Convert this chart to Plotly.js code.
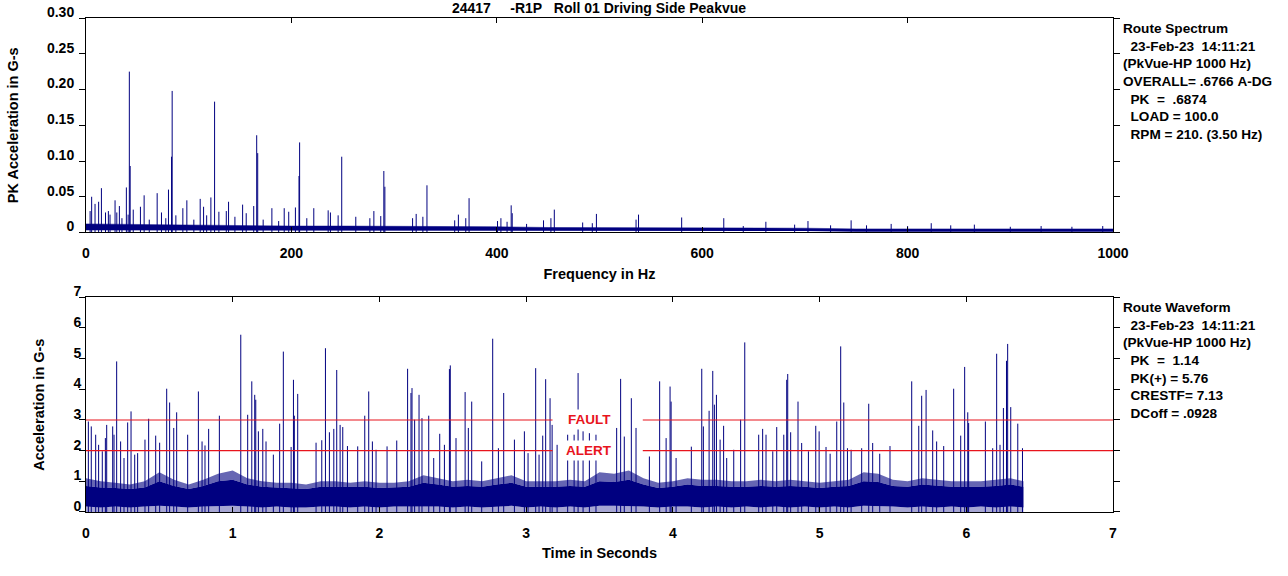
<!DOCTYPE html>
<html>
<head>
<meta charset="utf-8">
<script src="https://cdn.plot.ly/plotly-3.0.1.min.js"></script>
<style>
  html, body { margin: 0; padding: 0; background: #fff; }
  #chart { width: 1288px; height: 576px; }
</style>
</head>
<body>
<div id="chart"></div>
<script>
// ---- Route spectrum ----
const specPeakHz = [
  4, 5.5, 8.8, 12.3, 15, 19, 21.8, 23.4, 28.3, 30, 32.5, 35, 39.3, 41, 42.2, 43, 46, 53, 56.6, 61.6,
  69.3, 73.5, 77.7, 80.3, 83.3, 83.9, 87.5, 94.3, 98.2, 105, 111.2, 114.5, 117.5, 121.6, 125.2, 129.4,
  136.6, 138.8, 145, 152.5, 156, 163.3, 166.2, 167.2, 172.5, 181, 187.6, 193, 197.4, 203.9, 207.4, 208,
  215, 221.8, 235.8, 238, 245.5, 249, 262.7, 276.4, 280.3, 287, 290, 291, 318, 321.5, 328, 332,
  359, 362.6, 369.8, 373, 400.7, 404, 410, 414, 415, 429, 445.5, 452.7, 456, 483.6, 493, 497,
  535.6, 538, 580, 621, 640, 662, 690, 703, 725, 745, 760, 784, 800, 823, 842, 865, 900, 930, 960, 990
];
const specPeakAmp = [
  0.030, 0.050, 0.040, 0.043, 0.062, 0.028, 0.030, 0.025, 0.045, 0.028, 0.037, 0.020, 0.063, 0.025, 0.225, 0.093, 0.032, 0.036, 0.052, 0.018,
  0.055, 0.028, 0.020, 0.060, 0.106, 0.198, 0.024, 0.034, 0.045, 0.018, 0.047, 0.036, 0.024, 0.049, 0.183, 0.029,
  0.030, 0.043, 0.022, 0.039, 0.027, 0.037, 0.136, 0.111, 0.018, 0.034, 0.016, 0.034, 0.029, 0.035, 0.079, 0.126,
  0.020, 0.034, 0.031, 0.028, 0.024, 0.106, 0.022, 0.020, 0.030, 0.023, 0.086, 0.064, 0.020, 0.026, 0.022, 0.066,
  0.017, 0.025, 0.020, 0.048, 0.016, 0.020, 0.015, 0.038, 0.027, 0.012, 0.017, 0.020, 0.032, 0.014, 0.013, 0.026,
  0.018, 0.025, 0.021, 0.020, 0.009, 0.015, 0.011, 0.016, 0.010, 0.017, 0.010, 0.012, 0.009, 0.013, 0.010, 0.011, 0.008, 0.009, 0.008, 0.009
];
// noise floor band, every 50 Hz
const specBandHz = [0, 50, 100, 150, 200, 250, 300, 350, 400, 450, 500, 550, 600, 650, 700, 750, 800, 850, 900, 950, 1000];
const specBandLo = [0.003, 0.003, 0.003, 0.003, 0.003, 0.003, 0.002, 0.002, 0.002, 0.002, 0.002, 0.002, 0.002, 0.002, 0.002, 0.001, 0.001, 0.001, 0.001, 0.001, 0.001];
const specBandHi = [0.012, 0.011, 0.010, 0.010, 0.009, 0.009, 0.009, 0.008, 0.008, 0.007, 0.007, 0.007, 0.006, 0.006, 0.006, 0.005, 0.005, 0.005, 0.005, 0.005, 0.005];
const specXTicks = [0, 200, 400, 600, 800, 1000];
const specYTicks = [0, 0.05, 0.10, 0.15, 0.20, 0.25, 0.30];
const specYLabels = ['0', '0.05', '0.10', '0.15', '0.20', '0.25', '0.30'];

// ---- Route waveform ----
const waveSpikeT = [
  0.016, 0.036, 0.066, 0.086, 0.111, 0.132, 0.141, 0.182, 0.191, 0.209, 0.236, 0.259, 0.284, 0.307, 0.332, 0.352, 0.402, 0.427, 0.475, 0.502,
  0.550, 0.570, 0.598, 0.618, 0.693, 0.766, 0.791, 0.811, 0.836, 0.909, 1.055, 1.102, 1.130, 1.150, 1.157, 1.175, 1.205, 1.227, 1.277, 1.320,
  1.345, 1.398, 1.414, 1.420, 1.443, 1.568, 1.607, 1.632, 1.659, 1.689, 1.709, 1.732, 1.750, 1.782, 1.852, 1.900, 1.927, 1.952, 1.977, 2.052,
  2.118, 2.192, 2.215, 2.222, 2.240, 2.270, 2.290, 2.336, 2.370, 2.411, 2.443, 2.477, 2.483, 2.522, 2.584, 2.606, 2.629, 2.697, 2.772, 2.811,
  2.847, 2.920, 2.988, 3.013, 3.065, 3.088, 3.113, 3.133, 3.163, 3.177, 3.211, 3.283, 3.327, 3.354, 3.388, 3.431, 3.476, 3.617, 3.644, 3.669,
  3.717, 3.749, 3.840, 3.910, 3.954, 3.981, 3.988, 4.022, 4.126, 4.197, 4.208, 4.247, 4.272, 4.283, 4.297, 4.322, 4.346, 4.367, 4.415, 4.462,
  4.490, 4.585, 4.612, 4.635, 4.681, 4.708, 4.756, 4.776, 4.783, 4.803, 4.853, 4.878, 4.924, 4.974, 4.997, 5.044, 5.072, 5.117, 5.144, 5.165,
  5.190, 5.215, 5.287, 5.335, 5.362, 5.410, 5.480, 5.628, 5.676, 5.696, 5.726, 5.771, 5.798, 5.846, 5.914, 5.962, 5.989, 6.010, 6.016, 6.130,
  6.180, 6.207, 6.230, 6.253, 6.274, 6.282, 6.303, 6.351, 6.383
];
const waveSpikeAmp = [
  2.95, 2.79, 2.52, 2.19, 1.98, 2.41, 2.84, 2.79, 2.52, 4.91, 2.30, 1.76, 2.92, 3.28, 1.87, 1.92, 2.36, 3.04, 2.49, 2.26,
  4.02, 3.57, 2.74, 3.25, 2.52, 3.93, 2.30, 2.17, 2.71, 3.14, 5.78, 3.17, 4.26, 3.82, 3.66, 2.63, 2.71, 2.30, 1.87, 2.88,
  5.23, 2.12, 4.31, 3.14, 3.85, 2.26, 2.34, 5.34, 2.60, 2.71, 4.63, 2.84, 2.77, 2.15, 2.14, 3.14, 3.93, 2.30, 2.03, 2.14,
  2.33, 4.67, 3.88, 4.04, 3.01, 3.82, 3.06, 3.14, 1.76, 2.55, 2.19, 4.66, 4.78, 2.41, 3.91, 2.74, 3.60, 1.65, 5.65, 2.08,
  3.88, 2.36, 2.63, 1.92, 4.69, 1.87, 2.49, 4.33, 3.71, 2.84, 2.19, 2.52, 2.52, 4.53, 2.63, 2.57, 2.52, 2.74, 4.34, 2.46,
  3.71, 2.74, 1.81, 4.26, 2.41, 4.09, 3.60, 1.76, 2.13, 4.67, 2.79, 3.30, 4.60, 3.50, 3.82, 2.36, 2.81, 1.76, 2.03, 3.01,
  5.53, 2.52, 2.71, 2.52, 1.98, 2.77, 2.52, 4.31, 4.50, 2.60, 3.60, 2.25, 1.98, 2.81, 2.63, 2.12, 1.90, 2.95, 5.40, 3.57,
  2.08, 2.03, 2.08, 3.53, 2.25, 1.90, 2.15, 4.26, 2.81, 3.79, 3.98, 2.66, 2.30, 2.15, 4.02, 2.49, 4.73, 3.25, 2.90, 2.95,
  2.08, 5.16, 2.19, 3.39, 4.93, 5.48, 3.42, 2.88, 2.08
];
// dense band of the waveform, every 0.1 s
const waveBandT = [
  0.0, 0.1, 0.2, 0.3, 0.4, 0.5, 0.6, 0.7, 0.8, 0.9,
  1.0, 1.1, 1.2, 1.3, 1.4, 1.5, 1.6, 1.7, 1.8, 1.9,
  2.0, 2.1, 2.2, 2.3, 2.4, 2.5, 2.6, 2.7, 2.8, 2.9,
  3.0, 3.1, 3.2, 3.3, 3.4, 3.5, 3.6, 3.7, 3.8, 3.9,
  4.0, 4.1, 4.2, 4.3, 4.4, 4.5, 4.6, 4.7, 4.8, 4.9,
  5.0, 5.1, 5.2, 5.3, 5.4, 5.5, 5.6, 5.7, 5.8, 5.9,
  6.0, 6.1, 6.2, 6.3, 6.39
];
const waveBandLo = [
  0.18, 0.15, 0.18, 0.15, 0.18, 0.20, 0.18, 0.15, 0.18, 0.20,
  0.20, 0.18, 0.15, 0.18, 0.15, 0.15, 0.18, 0.18, 0.15, 0.18,
  0.15, 0.18, 0.18, 0.20, 0.18, 0.15, 0.18, 0.15, 0.18, 0.20,
  0.15, 0.18, 0.15, 0.18, 0.15, 0.20, 0.20, 0.20, 0.18, 0.15,
  0.18, 0.18, 0.15, 0.18, 0.15, 0.18, 0.15, 0.18, 0.15, 0.18,
  0.15, 0.18, 0.15, 0.20, 0.20, 0.18, 0.15, 0.18, 0.15, 0.18,
  0.15, 0.18, 0.15, 0.18, 0.15
];
const waveBandCore = [
  0.85, 0.80, 0.78, 0.75, 0.80, 1.00, 0.85, 0.75, 0.85, 1.00,
  1.05, 0.90, 0.82, 0.80, 0.78, 0.75, 0.82, 0.82, 0.80, 0.82,
  0.78, 0.80, 0.82, 0.95, 0.90, 0.82, 0.85, 0.82, 0.90, 0.95,
  0.82, 0.82, 0.82, 0.85, 0.82, 1.00, 0.98, 1.05, 0.90, 0.78,
  0.82, 0.90, 0.85, 0.85, 0.82, 0.82, 0.85, 0.82, 0.85, 0.82,
  0.78, 0.82, 0.85, 1.00, 0.98, 0.85, 0.82, 0.90, 0.85, 0.82,
  0.82, 0.82, 0.85, 0.90, 0.82
];
const waveBandTop = [
  1.10, 1.00, 0.95, 0.90, 1.00, 1.30, 1.05, 0.90, 1.05, 1.25,
  1.35, 1.10, 1.00, 0.95, 0.95, 0.90, 1.00, 1.00, 0.95, 1.00,
  0.95, 0.95, 1.00, 1.20, 1.10, 1.00, 1.05, 1.00, 1.10, 1.20,
  1.00, 1.00, 1.00, 1.05, 1.00, 1.30, 1.25, 1.35, 1.10, 0.95,
  1.00, 1.10, 1.05, 1.05, 1.00, 1.00, 1.05, 1.00, 1.05, 1.00,
  0.95, 1.00, 1.05, 1.30, 1.25, 1.05, 1.00, 1.10, 1.05, 1.00,
  1.00, 1.00, 1.05, 1.10, 1.00
];
const alarmLevels = [3, 2];
const alarmNames = ['FAULT', 'ALERT'];
const alarmGap = [3.18, 3.795];
const alarmLabelT = 3.43;

const specInfo = ['Route Spectrum', '  23-Feb-23  14:11:21', '(PkVue-HP 1000 Hz)', 'OVERALL= .6766 A-DG',
  '  PK  =  .6874', '  LOAD = 100.0', '  RPM = 210. (3.50 Hz)'];
const waveInfo = ['Route Waveform', '  23-Feb-23  14:11:21', '(PkVue-HP 1000 Hz)', '  PK  =  1.14',
  '  PK(+) = 5.76', '  CRESTF= 7.13', '  DCoff = .0928'];

const NAVY = '#000080';
const RED = '#e8141c';
const FONT = 'Liberation Sans, Arial, sans-serif';
// plot area in pixels (margins below)
const PL = 86, PR = 1113, PT = 18, PB = 512;

function stems(xs, ys) {
  const x = [], y = [];
  xs.forEach((v, i) => { x.push(v, v, null); y.push(0, ys[i], null); });
  return { x, y };
}
const keepSpaces = s => s.replace(/ /g, '\u00a0');

const specStems = stems(specPeakHz, specPeakAmp);
const waveStems = stems(waveSpikeT, waveSpikeAmp);

const traces = [
  { x: specBandHz, y: specBandLo, xaxis: 'x', yaxis: 'y', mode: 'lines', line: { width: 0 }, hoverinfo: 'skip' },
  { x: specBandHz, y: specBandHi, xaxis: 'x', yaxis: 'y', mode: 'lines', line: { width: 0.5, color: NAVY },
    fill: 'tonexty', fillcolor: NAVY, hoverinfo: 'skip' },
  { x: specStems.x, y: specStems.y, xaxis: 'x', yaxis: 'y', mode: 'lines', line: { width: 1, color: NAVY } },

  { x: waveBandT, y: waveBandLo, xaxis: 'x2', yaxis: 'y2', mode: 'lines', line: { width: 0 },
    fill: 'tozeroy', fillcolor: 'rgba(0,0,128,0.35)', hoverinfo: 'skip' },
  { x: waveBandT, y: waveBandCore, xaxis: 'x2', yaxis: 'y2', mode: 'lines', line: { width: 0 },
    fill: 'tonexty', fillcolor: NAVY, hoverinfo: 'skip' },
  { x: waveBandT, y: waveBandTop, xaxis: 'x2', yaxis: 'y2', mode: 'lines', line: { width: 0 },
    fill: 'tonexty', fillcolor: 'rgba(0,0,128,0.6)', hoverinfo: 'skip' },
  { x: waveStems.x, y: waveStems.y, xaxis: 'x2', yaxis: 'y2', mode: 'lines', line: { width: 1, color: NAVY } },
];

const shapes = [];
const annotations = [];
alarmLevels.forEach((lvl, i) => {
  [[0, alarmGap[0]], [alarmGap[1], 7]].forEach(([a, b]) => shapes.push({
    type: 'line', xref: 'x2', yref: 'y2', x0: a, x1: b, y0: lvl, y1: lvl,
    line: { color: RED, width: 1.2 }
  }));
  annotations.push({
    xref: 'x2', yref: 'y2', x: alarmLabelT, y: lvl, text: alarmNames[i], showarrow: false,
    bgcolor: '#fff', borderpad: 2, font: { family: FONT, size: 13.5, color: RED, weight: 'bold' }
  });
});
[[specInfo, 19], [waveInfo, 298]].forEach(([lines, top]) => annotations.push({
  xref: 'paper', yref: 'paper', x: (1121 - PL) / (PR - PL), y: (PB - top) / (PB - PT),
  xanchor: 'left', yanchor: 'top', align: 'left', showarrow: false,
  text: lines.map(keepSpaces).join('<br>'),
  font: { family: FONT, size: 13.6, color: '#000', weight: 'bold' }
}));

const axisBase = {
  showline: true, linecolor: '#000', linewidth: 1, mirror: 'ticks', showgrid: false, zeroline: false,
  tickcolor: '#000', tickwidth: 1, ticklen: 5,
  tickfont: { family: FONT, size: 14, color: '#000', weight: 'bold' },
};
const titleFont = { family: FONT, size: 14.5, color: '#000', weight: 'bold' };

const layout = {
  width: 1288, height: 576,
  margin: { l: PL, r: 1288 - PR, t: PT, b: 576 - PB },
  paper_bgcolor: '#fff', plot_bgcolor: '#fff',
  showlegend: false,
  title: {
    text: keepSpaces('24417     -R1P   Roll 01 Driving Side Peakvue'),
    x: 599 / 1288, xanchor: 'center', y: 1 - 8 / 576, yanchor: 'middle',
    font: { family: FONT, size: 14, color: '#000', weight: 'bold' }
  },
  xaxis: { ...axisBase, anchor: 'y', domain: [0, 1], range: [0, 1000], tickvals: specXTicks, ticks: 'inside',
    ticklabelstandoff: 8,
    title: { text: 'Frequency in Hz', font: titleFont, standoff: 8 } },
  yaxis: { ...axisBase, anchor: 'x', domain: [0.5658, 1], range: [0, 0.30], tickvals: specYTicks, ticktext: specYLabels,
    ticks: 'outside', ticklen: 6, ticklabelshift: -6, ticklabelstandoff: 2,
    title: { text: 'PK Acceleration in G-s', font: titleFont, standoff: 24 } },
  xaxis2: { ...axisBase, anchor: 'y2', domain: [0, 1], range: [0, 7], dtick: 1, ticks: 'inside',
    ticklabelstandoff: 8,
    title: { text: 'Time in Seconds', font: titleFont, standoff: 8 } },
  yaxis2: { ...axisBase, anchor: 'x2', domain: [0, 0.4346], range: [0, 7], dtick: 1,
    ticks: 'outside', ticklen: 6, ticklabelshift: -6, ticklabelstandoff: -5,
    title: { text: 'Acceleration in G-s', font: titleFont, standoff: 25 } },
  shapes, annotations,
};

Plotly.newPlot('chart', traces, layout, { displayModeBar: false, staticPlot: true });
</script>
</body>
</html>
